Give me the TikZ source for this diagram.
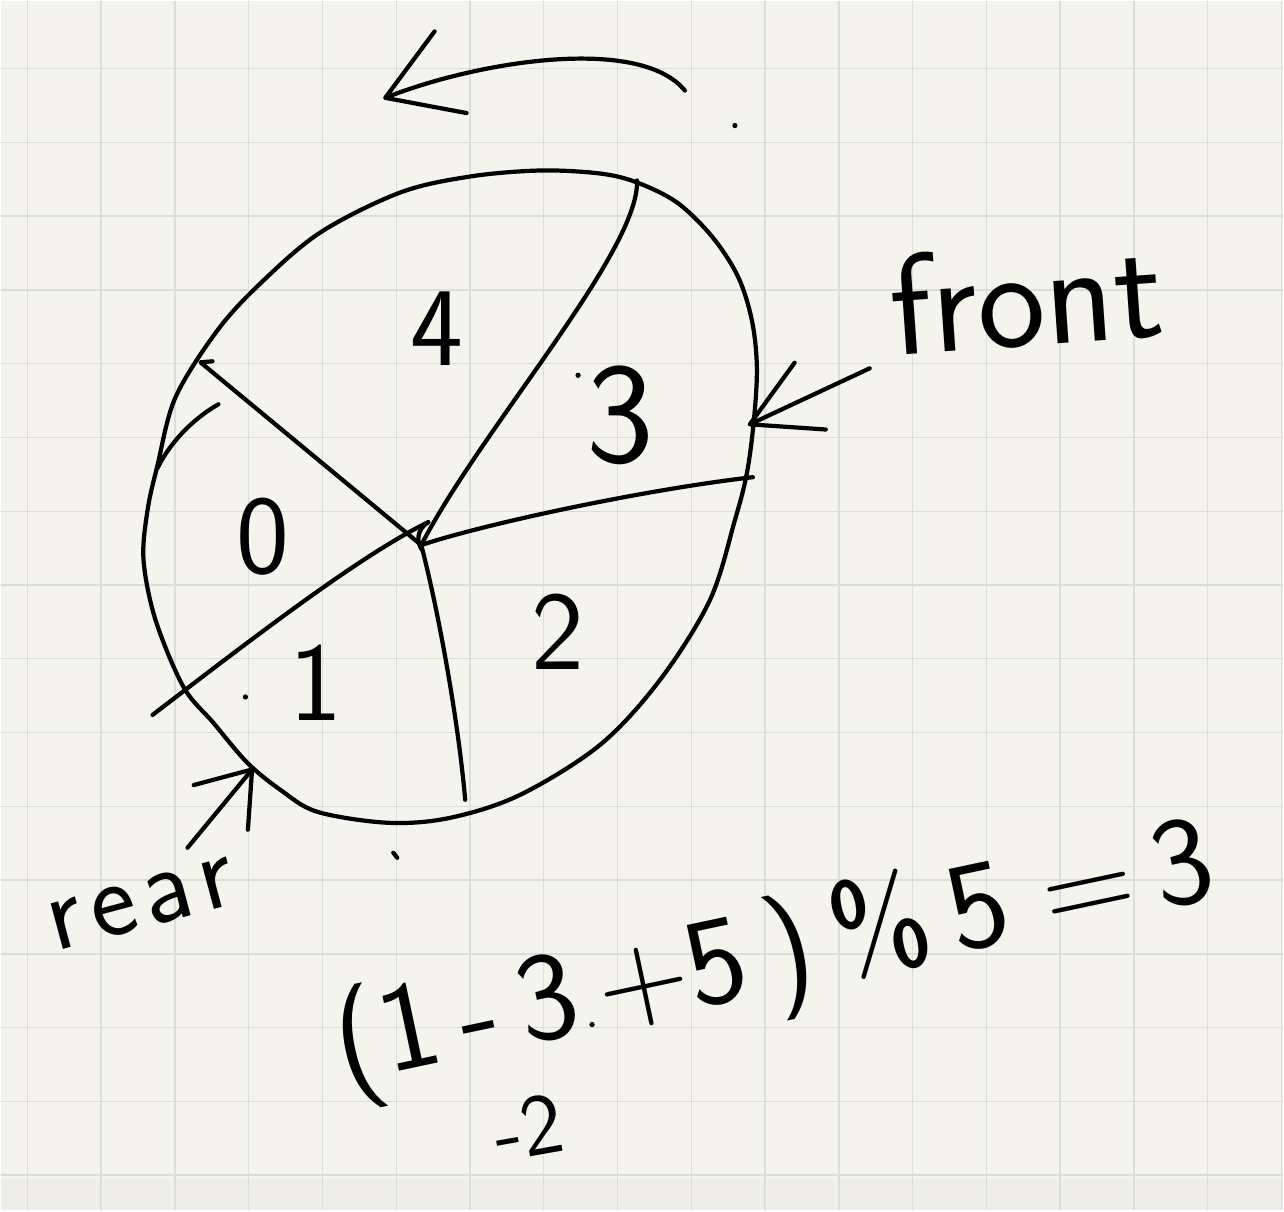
\documentclass[tikz,border=0pt]{standalone}
\usepackage{tikz}
\usetikzlibrary{arrows.meta}
\definecolor{paper}{RGB}{244,244,236}
\definecolor{paperdim}{RGB}{238,238,230}
\definecolor{gridline}{RGB}{220,220,217}

\begin{document}
\begin{tikzpicture}[x=0.02cm, y=-0.02cm,
  pen/.style={line width=2.4pt, line cap=round, line join=round, black},
  every node/.style={inner sep=0pt, font=\sffamily},
  digit/.style={font=\sffamily\fontsize{64}{70}\selectfont},
  word/.style={font=\sffamily\fontsize{82}{88}\selectfont}]
  % paper and grid
  \fill[paper] (0,0) rectangle (1284,1211);
  \fill[paperdim] (0,1180) rectangle (1284,1211);
  \foreach \gx in {0,...,17}
    \draw[gridline, line width=0.8pt] ({26.7+73.85*\gx},0) -- ++(0,1211);
  \foreach \gy in {0,...,15}
    \draw[gridline, line width=0.8pt] (0,{68+73.85*\gy}) -- ++(1284,0);

  % queue ring
  \draw[pen] plot[smooth cycle, tension=0.55] coordinates {
    (540,170) (600,173) (637,182) (677,202) (712,236) (738,276) (752,320)
    (757,367) (754,420) (747,473) (735,520) (710,600) (660,680) (600,745)
    (520,795) (450,818) (388,823) (317,812) (280,790) (247,763) (213,723)
    (183,687) (155,620) (143,560) (147,510) (157,465) (175,397) (217,330)
    (260,283) (320,232) (400,192) (470,176)};
  \draw[pen] (218,404) .. controls (190,420) and (168,445) .. (157,468);

  \coordinate (hub) at (421,545);
  \coordinate (r0) at (200,362);
  \coordinate (r1) at (152,715);
  \coordinate (r2) at (465,800);
  \coordinate (r3) at (753,477);
  \coordinate (r4) at (637,180);
  \draw[pen] (212,361) -- (r0) -- (hub);
  \draw[pen] (r1) .. controls (250,640) and (360,555) .. (428,522);
  \draw[pen] (r4) .. controls (640,250) and (480,430) .. (hub);
  \draw[pen] (hub) .. controls (480,525) and (640,490) .. (r3);
  \draw[pen] (hub) .. controls (438,610) and (458,720) .. (r2);
  \draw[pen] (428,522) .. controls (416,530) and (416,542) .. (422,550);

  % sector numbers
  \node[digit] (s4) at (437,328) {4};
  \node[digit, font=\sffamily\fontsize{82}{88}\selectfont] (s3) at (620,415) {3};
  \node[digit] (s0) at (262,537) {0};
  \node[digit] (s1) at (316,683) {1};
  \node[digit] (s2) at (558,632) {2};

  % direction arrow
  \coordinate (tA) at (685,90);
  \coordinate (tB) at (383,98);
  \draw[pen, -{Straight Barb[length=40pt, width=50pt, round]}]
    (tA) .. controls (640,35) and (480,60) .. (tB);

  % front and rear pointers
  \node[word, anchor=base west, rotate=4] (front) at (893,355) {front};
  \coordinate (fA) at (870,368);
  \coordinate (fB) at (748,425);
  \draw[pen, -{Straight Barb[length=38pt, width=42pt, round]}] (fA) -- (fB);

  \node[word, font=\sffamily\fontsize{62}{70}\selectfont, anchor=base west, rotate=15]
    (rear) at (55,952) {r\kern5pt e\kern5pt a\kern5pt r};
  \coordinate (rA) at (187,848);
  \coordinate (rB) at (253,768);
  \draw[pen, -{Straight Barb[length=28pt, width=40pt, round]}] (rA) -- (rB);

  % index formula
  \node[font=\sffamily\fontsize{72}{80}\selectfont, rotate=12] (calc) at (775,960)
    {(1\,-\,3\,+5\,)\,\%\,5\;=\,3};
  \node[font=\sffamily\fontsize{50}{56}\selectfont, rotate=10] (diff) at (528,1128) {-2};

  % stray marks
  \foreach \px/\py in {578/375, 245/697, 735/125, 592/1025}
    \fill (\px,\py) circle (1.5pt);
  \draw[pen] (393,853) -- (397,858);
\end{tikzpicture}
\end{document}
